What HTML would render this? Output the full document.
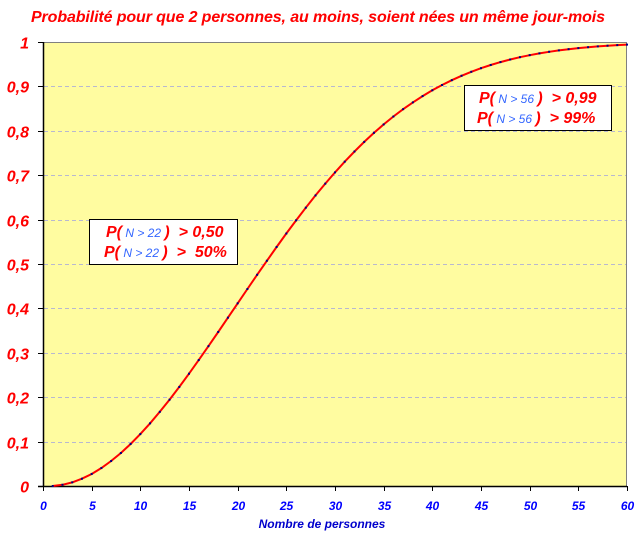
<!DOCTYPE html>
<html><head><meta charset="utf-8"><style>
body{margin:0;background:#fff;}
svg text{font-family:"Liberation Sans",Arial,sans-serif;font-style:italic;font-weight:bold;}
</style></head><body>
<svg id="s" width="637" height="539" xmlns="http://www.w3.org/2000/svg">
<rect x="43" y="42" width="584" height="444" fill="#fffca0"/>
<g id="grid" stroke="#b8b8d0" stroke-dasharray="4,3" stroke-width="1"></g>
<line x1="43" y1="42.5" x2="627" y2="42.5" stroke="#808080"/>
<line x1="626.5" y1="42" x2="626.5" y2="486" stroke="#808080"/>
<g id="ticks" stroke="#000"></g>
<line x1="43.5" y1="42" x2="43.5" y2="487" stroke="#000" stroke-width="1.5"/>
<line x1="38" y1="486.5" x2="627" y2="486.5" stroke="#000" stroke-width="1.5"/>
<g id="ylab" fill="#ff0000" font-size="16" text-anchor="end"></g>
<g id="xlab" fill="#0000ff" font-size="12" text-anchor="middle"></g>
<path id="curve" fill="none" stroke="#ff0000" stroke-width="2"/>
<g id="dots" fill="#000080"></g>
<text x="318" y="22" fill="#ff0000" font-size="16" text-anchor="middle" textLength="574">Probabilité pour que 2 personnes, au moins, soient nées un même jour-mois</text>
<text x="322" y="528" fill="#0000cc" font-size="12" text-anchor="middle">Nombre de personnes</text>
<rect x="89.5" y="219.5" width="148" height="45" fill="#fff" stroke="#000"/>
<text x="106" y="237" font-size="16" fill="#ff0000" xml:space="preserve">P(<tspan fill="#3366ff" font-size="12" font-weight="normal"> N &gt; 22 </tspan>)  &gt; 0,50</text>
<text x="104" y="257" font-size="16" fill="#ff0000" xml:space="preserve">P(<tspan fill="#3366ff" font-size="12" font-weight="normal"> N &gt; 22 </tspan>)  &gt;  50%</text>
<rect x="464.5" y="85.5" width="147" height="45" fill="#fff" stroke="#000"/>
<text x="479" y="103" font-size="16" fill="#ff0000" xml:space="preserve">P(<tspan fill="#3366ff" font-size="12" font-weight="normal"> N &gt; 56 </tspan>)  &gt; 0,99</text>
<text x="477" y="123" font-size="16" fill="#ff0000" xml:space="preserve">P(<tspan fill="#3366ff" font-size="12" font-weight="normal"> N &gt; 56 </tspan>)  &gt; 99%</text>
</svg>
<script>
var NS="http://www.w3.org/2000/svg";
function el(p,t,a,txt){var e=document.createElementNS(NS,t);for(var k in a)e.setAttribute(k,a[k]);if(txt!=null)e.textContent=txt;document.getElementById(p).appendChild(e);}
function X(n){return 43+n*584/60;}
function Y(p){return 486-p*444;}
for(var i=0;i<=10;i++){var y=Math.round(Y(i/10))+0.5;
 if(i>0&&i<10)el("grid","line",{x1:44,y1:y,x2:626,y2:y});
 el("ticks","line",{x1:38,y1:y,x2:43,y2:y});
 el("ylab","text",{x:29,y:y+6},i==0?"0":i==10?"1":"0,"+i);}
for(var j=0;j<=60;j+=5){var x=Math.round(X(j))+0.5;
 el("ticks","line",{x1:x,y1:486,x2:x,y2:491});
 el("xlab","text",{x:x,y:510},String(j));}
var d="",q=1;
for(var n=1;n<=60;n++){if(n>1)q*=(365-(n-1))/365;var p=1-q;
 d+=(n==1?"M":"L")+X(n).toFixed(1)+","+Y(p).toFixed(1);
 el("dots","rect",{x:X(n)-1,y:Y(p)-1,width:2,height:2});}
document.getElementById("curve").setAttribute("d",d);
</script>
</body></html>
